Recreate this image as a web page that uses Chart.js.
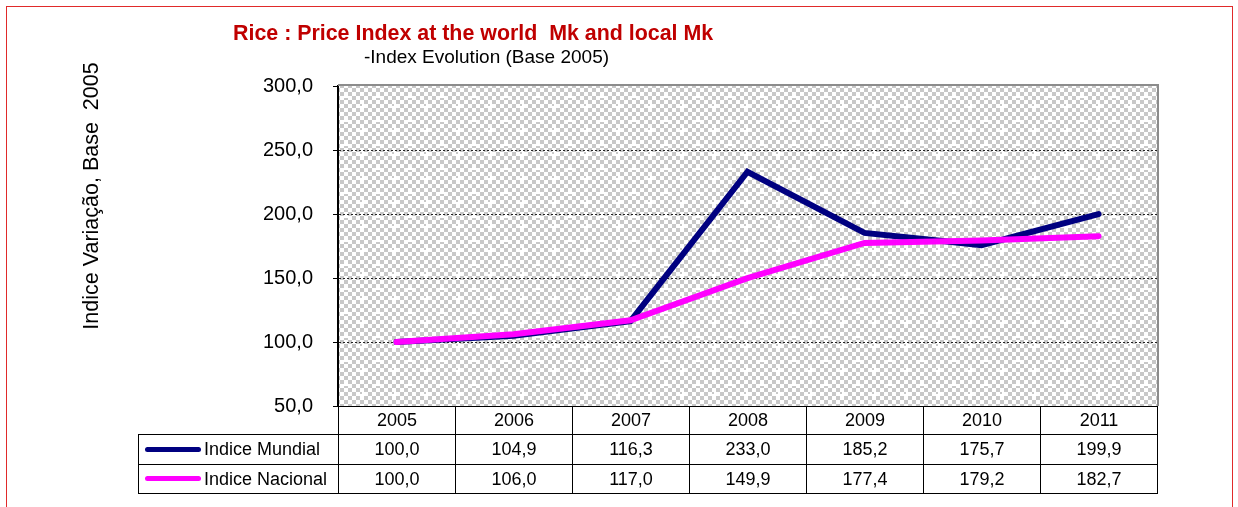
<!DOCTYPE html>
<html>
<head>
<meta charset="utf-8">
<script src="https://cdn.jsdelivr.net/npm/chart.js@4"></script>
<style>
  html, body { margin: 0; padding: 0; background: #fff; }
  #wrap { position: relative; width: 1238px; height: 507px; overflow: hidden; font-family: Arial, "Liberation Sans", sans-serif; }
  #frame { position: absolute; left: 6px; top: 6px; width: 1227px; height: 520px; border: 1px solid #e02a2a; box-sizing: border-box; }
  #c { position: absolute; left: 0; top: 0; }
  #title { position: absolute; left: 233px; top: 21px; color: #c00000; font-weight: bold; font-size: 21.4px; white-space: pre; }
  #subtitle { position: absolute; left: 364px; top: 46px; color: #000; font-size: 19px; white-space: pre; }
  #ytitle { position: absolute; left: 91px; top: 196px; transform: translate(-50%, -50%) rotate(-90deg); font-size: 21.5px; white-space: pre; color: #000; }
  table#dt { position: absolute; border-collapse: collapse; font-size: 18px; color: #000; }
  table#dt td { border: 1px solid #000; padding: 0; text-align: center; box-sizing: border-box; }
  table#dt td.empty { border: none; }
  table#dt td.leg { text-align: left; white-space: nowrap; }
  .sw { display: inline-block; width: 56px; height: 5px; border-radius: 3px; vertical-align: middle; margin: 0 3px 0 6px; position: relative; top: -1px; }
</style>
</head>
<body>
<div id="wrap">
  <canvas id="c" width="1238" height="507"></canvas>
  <div id="frame"></div>
  <div id="title">Rice : Price Index at the world  Mk and local Mk</div>
  <div id="subtitle">-Index Evolution (Base 2005)</div>
  <div id="ytitle">Indice Variação, Base  2005</div>
  <table id="dt"></table>
</div>
<script>
const years = ["2005", "2006", "2007", "2008", "2009", "2010", "2011"];
const indiceMundial = [100.0, 104.9, 116.3, 233.0, 185.2, 175.7, 199.9];
const indiceNacional = [100.0, 106.0, 117.0, 149.9, 177.4, 179.2, 182.7];
const seriesNames = ["Indice Mundial", "Indice Nacional"];
const seriesColors = ["#000080", "#ff00ff"];

function fmt(v) { return v.toFixed(1).replace('.', ','); }

function makePattern(ctx) {
  const p = document.createElement('canvas');
  p.width = 32; p.height = 24;
  const g = p.getContext('2d');
  g.fillStyle = '#ffffff';
  g.fillRect(0, 0, 32, 24);
  g.fillStyle = '#c8c8c8';
  for (let y = 0; y < 24; y += 4) {
    for (let x = 0; x < 32; x += 4) {
      if (((x / 4) + (y / 4)) % 2 === 0) g.fillRect(x, y, 4, 4);
    }
  }
  // small white crosses of the dither
  g.fillStyle = '#ffffff';
  g.fillRect(8, 10, 4, 4);
  g.fillRect(10, 8, 2, 8);
  g.fillRect(24, 22, 4, 2);
  g.fillRect(24, 0, 4, 2);
  return ctx.createPattern(p, 'repeat');
}

const bgPlugin = {
  id: 'bgPattern',
  beforeDraw(chart) {
    const { ctx, chartArea: a } = chart;
    ctx.save();
    ctx.fillStyle = makePattern(ctx);
    ctx.fillRect(a.left, a.top, a.right - a.left, a.bottom - a.top);
    ctx.restore();
  },
  afterDraw(chart) {
    const { ctx, chartArea: a } = chart;
    ctx.save();
    ctx.strokeStyle = '#8c8c8c';
    ctx.lineWidth = 2;
    ctx.beginPath();
    ctx.moveTo(a.left, a.top - 1);
    ctx.lineTo(a.right + 1, a.top - 1);
    ctx.lineTo(a.right + 1, a.bottom);
    ctx.stroke();
    ctx.restore();
  }
};

const chart = new Chart(document.getElementById('c'), {
  type: 'line',
  data: {
    labels: years,
    datasets: [
      { label: seriesNames[0], data: indiceMundial, borderColor: seriesColors[0], borderWidth: 6, pointRadius: 0, tension: 0, borderCapStyle: 'round', order: 1 },
      { label: seriesNames[1], data: indiceNacional, borderColor: seriesColors[1], borderWidth: 6, pointRadius: 0, tension: 0, borderCapStyle: 'round', order: 0 }
    ]
  },
  options: {
    responsive: false,
    animation: false,
    layout: { padding: { left: 0, top: 86, right: 81, bottom: 101 } },
    plugins: { legend: { display: false }, title: { display: false }, tooltip: { enabled: false } },
    scales: {
      x: {
        display: false,
        offset: true
      },
      y: {
        min: 50, max: 300,
        afterFit: s => { s.width = 338; },
        grid: {
          color: c => (c.tick && (c.tick.value === 300 || c.tick.value === 50)) ? 'rgba(0,0,0,0)' : '#222',
          tickColor: '#000',
          tickLength: 5,
          lineWidth: 1,
          drawTicks: true
        },
        border: { display: true, color: '#000', width: 2, dash: [2, 2] },
        ticks: {
          stepSize: 50,
          padding: 20,
          color: '#000',
          font: { family: 'Arial, "Liberation Sans", sans-serif', size: 20 },
          callback: v => fmt(v)
        }
      }
    }
  },
  plugins: [bgPlugin]
});

// build data table aligned with chart area
(function buildTable() {
  const a = chart.chartArea;
  const colW = (a.right - a.left) / years.length;
  const legLeft = 138;
  const legW = a.left - legLeft;
  const tbl = document.getElementById('dt');
  tbl.style.left = legLeft + 'px';
  tbl.style.top = a.bottom + 'px';
  const rowH = [28, 30, 29];
  let html = '<tr style="height:' + rowH[0] + 'px"><td class="empty" style="width:' + legW + 'px"></td>';
  years.forEach(y => { html += '<td style="width:' + colW + 'px">' + y + '</td>'; });
  html += '</tr>';
  [indiceMundial, indiceNacional].forEach((arr, i) => {
    html += '<tr style="height:' + rowH[i + 1] + 'px"><td class="leg"><span class="sw" style="background:' + seriesColors[i] + '"></span>' + seriesNames[i] + '</td>';
    arr.forEach(v => { html += '<td>' + fmt(v) + '</td>'; });
    html += '</tr>';
  });
  tbl.innerHTML = html;
})();
</script>
</body>
</html>
